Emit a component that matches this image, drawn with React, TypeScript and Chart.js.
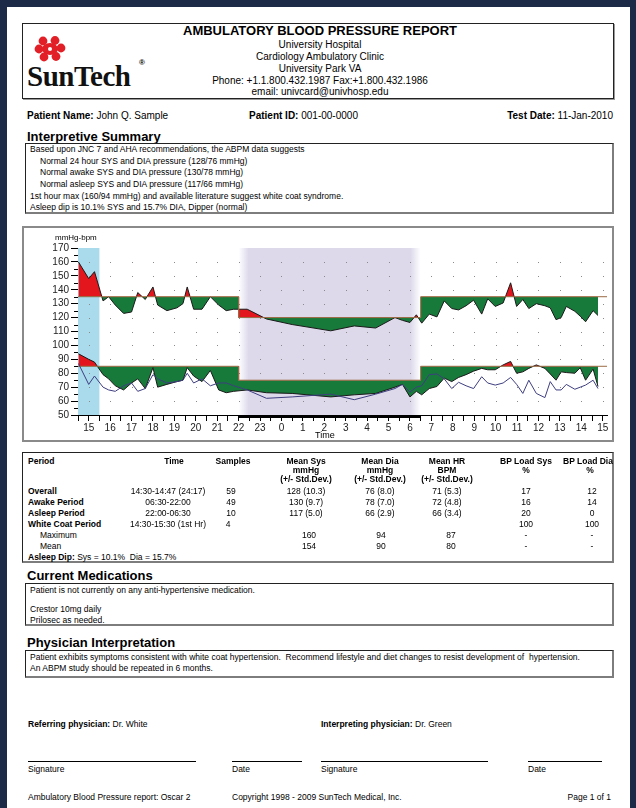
import React, { useEffect, useRef } from "react";
import { Chart, registerables } from "chart.js";

Chart.register(...registerables);

// ---------- chart data (hours; values >= 24 are the next day) ----------
const sampleTimes = [
  14.52, 15.0, 15.27, 15.67, 15.93, 16.24, 16.63, 17.0, 17.29, 17.64, 18.0, 18.22, 18.65, 19.12, 19.4, 19.6,
  19.9, 20.29, 20.68, 21.07, 21.42, 21.77,
  22.4, 23.3, 24.5, 26.3, 27.4, 28.4, 29.3, 29.65, 30.0, 30.3,
  30.55, 30.9, 31.26, 31.6, 31.95, 32.27, 32.62, 32.97, 33.35, 33.63, 33.98, 34.35, 34.7, 34.98, 35.27,
  35.55, 35.9, 36.3, 36.55, 36.82, 37.06, 37.3, 37.7, 37.95, 38.2, 38.55, 38.78,
];
const systolic = [
  160, 148, 153, 132, 135, 129, 123, 124, 138, 133, 142, 129, 125, 127, 130, 142,
  126, 126, 135, 129, 125, 126,
  126, 119, 115, 110.5, 114, 112.5, 120, 118, 116.5, 122,
  116, 122.5, 120.5, 132, 126.5, 125.5, 128.5, 132.5, 122.5, 133.5, 128, 130.5, 145, 128, 133,
  126.5, 130, 128.5, 127, 118.5, 120, 128, 124.5, 121, 117, 125, 121.5,
];
const diastolic = [
  94, 90, 88, 79, 76, 71, 68, 73, 76, 69, 84, 70, 72, 74, 75, 84,
  78, 74, 82, 68, 66, 67,
  68, 66, 65.5, 63, 64.5, 65.5, 70, 72, 63, 67,
  64.5, 69, 70.5, 76.5, 74, 77, 79, 81.5, 83.5, 82.5, 82.5, 86, 88.5, 80, 81,
  83.5, 86, 83.5, 79.5, 75, 81, 80.5, 80, 84, 75, 83, 70.5,
];
const heartRate = [
  87, 72, 78, 70, 68, 67, 71, 73, 67, 69, 79, 76, 73, 74, 75, 80,
  73, 76, 71, 73, 73, 71,
  68, 62, 63, 65, 61, 65, 69, 72, 66.5, 70,
  71, 79, 79.5, 76, 69, 73.5, 71, 69, 77.5, 73, 71.5, 73, 77, 72, 65.5,
  75, 65.5, 62.5, 74, 68, 68, 72, 68.5, 70, 71.5, 75, 69,
];
const limitTimes = [14.5, 22, 22, 30.5, 30.5, 39.2];
const sysLimit = [135, 135, 120, 120, 135, 135];
const diaLimit = [85, 85, 75, 75, 85, 85];
const whiteCoatPeriod = [14.5, 15.5];
const sleepPeriod = [22, 30.5];
const timeRange = [14.5, 39.2];
const valueRange = [50, 170];

// ---------- table data ----------
const periodRows = ["Overall", "Awake Period", "Asleep Period", "White Coat Period"];
const periodTimes = ["14:30-14:47 (24:17)", "06:30-22:00", "22:00-06:30", "14:30-15:30 (1st Hr)"];
const periodSamples = ["59", "49", "10", "4"];
const meanSys = ["128 (10.3)", "130 (9.7)", "117 (5.0)", ""];
const meanDia = ["76 (8.0)", "78 (7.0)", "66 (2.9)", ""];
const meanHr = ["71 (5.3)", "72 (4.8)", "66 (3.4)", ""];
const loadSys = ["17", "16", "20", "100"];
const loadDia = ["12", "14", "0", "100"];
const wcMax = ["160", "94", "87", "-", "-"];
const wcMean = ["154", "90", "80", "-", "-"];

const GREEN = "#177a3a";
const RED = "#e3161d";
const LIMIT = "#9b6a43";
const HR_COLOR = "#3e3e80";
const FONT = '"Liberation Sans", Arial, sans-serif';

const pts = (xs: number[], ys: number[]) => xs.map((x, i) => ({ x, y: ys[i] }));

const decorPlugin = {
  id: "decor",
  beforeDatasetsDraw(chart: any) {
    const { ctx, chartArea: a, scales } = chart;
    const x = scales.x;
    const y = scales.y;
    ctx.save();
    const w0 = x.getPixelForValue(whiteCoatPeriod[0]);
    const w1 = x.getPixelForValue(whiteCoatPeriod[1]);
    ctx.fillStyle = "#a9dbec";
    ctx.fillRect(w0, a.top, w1 - w0, a.bottom - a.top);
    const s0 = x.getPixelForValue(sleepPeriod[0]);
    const s1 = x.getPixelForValue(sleepPeriod[1]);
    const g = ctx.createLinearGradient(s0, 0, s1, 0);
    const f = 10 / (s1 - s0);
    g.addColorStop(0, "rgba(221,217,235,0)");
    g.addColorStop(f, "rgb(221,217,235)");
    g.addColorStop(1 - f, "rgb(221,217,235)");
    g.addColorStop(1, "rgba(221,217,235,0)");
    ctx.fillStyle = g;
    ctx.fillRect(s0, a.top, s1 - s0, a.bottom - a.top);
    ctx.fillStyle = "#8a8a8a";
    for (const t of x.ticks) {
      if (!Number.isInteger(t.value)) continue;
      const px = Math.round(x.getPixelForValue(t.value));
      for (const u of y.ticks) {
        if (u.value <= y.min || u.value >= y.max) continue;
        const py = Math.round(y.getPixelForValue(u.value));
        ctx.fillRect(px, py, 1, 1);
      }
    }
    // minor y ticks halfway between labelled ticks
    ctx.strokeStyle = "#000";
    ctx.lineWidth = 1;
    for (let i = 0; i < y.ticks.length - 1; i++) {
      const v = (y.ticks[i].value + y.ticks[i + 1].value) / 2;
      const py = Math.round(y.getPixelForValue(v)) + 0.5;
      ctx.beginPath();
      ctx.moveTo(a.left - 4, py);
      ctx.lineTo(a.left, py);
      ctx.stroke();
    }
    ctx.restore();
  },
  afterDatasetsDraw(chart: any) {
    const { ctx, chartArea: a, scales } = chart;
    const x = scales.x;
    const s0 = x.getPixelForValue(sleepPeriod[0]);
    const s1 = x.getPixelForValue(sleepPeriod[1]);
    ctx.save();
    ctx.fillStyle = "#000";
    ctx.fillRect(s0, a.bottom, s1 - s0, 3);
    ctx.restore();
  },
};

function BPChart() {
  const ref = useRef<HTMLCanvasElement>(null);
  useEffect(() => {
    const chart = new Chart(ref.current as HTMLCanvasElement, {
      type: "line",
      data: {
        datasets: [
          { label: "Sys limit", data: pts(limitTimes, sysLimit), borderColor: LIMIT, borderWidth: 1, pointRadius: 0, fill: false, order: 1 },
          { label: "Dia limit", data: pts(limitTimes, diaLimit), borderColor: LIMIT, borderWidth: 1, pointRadius: 0, fill: false, order: 1 },
          { label: "Systolic", data: pts(sampleTimes, systolic), borderColor: "#1a1a1a", borderWidth: 1, pointRadius: 0, fill: { target: 0, above: RED, below: GREEN }, order: 2 },
          { label: "Diastolic", data: pts(sampleTimes, diastolic), borderColor: "#1a1a1a", borderWidth: 1, pointRadius: 0, fill: { target: 1, above: RED, below: GREEN }, order: 2 },
          { label: "Heart rate", data: pts(sampleTimes, heartRate), borderColor: HR_COLOR, borderWidth: 1, pointRadius: 0, fill: false, order: 0 },
        ],
      } as any,
      options: {
        animation: false,
        responsive: false,
        events: [],
        layout: { padding: { top: 20, right: 5, left: 0, bottom: 0 } },
        plugins: { legend: { display: false }, tooltip: { enabled: false }, title: { display: false } },
        scales: {
          x: {
            type: "linear",
            min: timeRange[0],
            max: timeRange[1],
            afterFit: (s: any) => { s.height = 25; },
            grid: { drawOnChartArea: false, drawTicks: true, tickLength: 6, color: "#000" },
            border: { color: "#000", width: 1 },
            ticks: {
              stepSize: 0.5,
              includeBounds: false,
              autoSkip: false,
              maxRotation: 0,
              padding: 1,
              color: "#222",
              font: { family: FONT, size: 10 },
              callback: (v: any) => (Number.isInteger(v) ? String(v % 24) : ""),
            },
          },
          y: {
            min: valueRange[0],
            max: valueRange[1],
            afterFit: (s: any) => { s.width = 54; },
            grid: { drawOnChartArea: false, drawTicks: true, tickLength: 7, color: "#000" },
            border: { color: "#000", width: 1 },
            ticks: { stepSize: 10, autoSkip: false, padding: 2, color: "#222", font: { family: FONT, size: 10 } },
          },
        },
      } as any,
      plugins: [decorPlugin],
    });
    return () => chart.destroy();
  }, []);
  return (
    <canvas
      ref={ref}
      width={588}
      height={212}
      style={{ position: "absolute", left: 24, top: 228, width: 588, height: 212 }}
    />
  );
}

type TP = { x: number; y: number; s?: number; b?: boolean; a?: "left" | "center" | "right"; children: React.ReactNode; ff?: string };
function T({ x, y, s = 8.5, b = false, a = "left", children, ff }: TP) {
  const style: React.CSSProperties = {
    position: "absolute",
    left: x,
    top: y - s * 0.6,
    fontSize: s,
    lineHeight: `${s * 1.2}px`,
    fontWeight: b ? "bold" : "normal",
    whiteSpace: "pre",
    color: "#000",
  };
  if (ff) style.fontFamily = ff;
  if (a === "center") style.transform = "translateX(-50%)";
  if (a === "right") style.transform = "translateX(-100%)";
  return <div style={style}>{children}</div>;
}

function Box({ x, y, w, h }: { x: number; y: number; w: number; h: number }) {
  return (
    <div
      style={{
        position: "absolute",
        left: x,
        top: y,
        width: w,
        height: h,
        boxSizing: "border-box",
        borderLeft: "1px solid #222",
        borderTop: "1px solid #222",
        borderRight: "2px solid #7d7d7d",
        borderBottom: "2px solid #7d7d7d",
      }}
    />
  );
}

function Line({ x1, x2, y }: { x1: number; x2: number; y: number }) {
  return <div style={{ position: "absolute", left: x1, top: y, width: x2 - x1, height: 1, background: "#000" }} />;
}

export default function App() {
  const col = { time: 168, samples: 231, sys: 306, dia: 380, hr: 447, lsys: 526, ldia: 592 };
  const rowY = [491, 502, 513, 524];
  return (
    <div
      style={{
        position: "absolute",
        left: 0,
        top: 0,
        width: 636,
        height: 808,
        overflow: "hidden",
        background: "rgb(28,42,72)",
        fontFamily: FONT,
      }}
    >
      <div style={{ position: "absolute", left: 7, top: 7, width: 623, height: 801, background: "#fff" }}>
      </div>
      {/* header */}
      <div style={{ position: "absolute", left: 22, top: 23, width: 592, height: 76, boxSizing: "border-box", border: "1px solid #222", boxShadow: "1px 1px 0 #999" }} />
      <svg width="34" height="26" style={{ position: "absolute", left: 34, top: 36 }}>
        <g fill="#e21f26">
          <ellipse cx="16" cy="13" rx="8" ry="6" />
          <circle cx="9" cy="5" r="4.4" />
          <circle cx="21" cy="4.5" r="4.4" />
          <circle cx="5" cy="13" r="4.4" />
          <circle cx="27" cy="12" r="4.4" />
          <circle cx="10" cy="21" r="4.4" />
          <circle cx="22" cy="20.5" r="4.4" />
        </g>
        <circle cx="16" cy="13" r="2" fill="#fff" />
      </svg>
      <div style={{ position: "absolute", left: 27, top: 58, fontSize: 29, lineHeight: "36px", fontWeight: "bold", fontFamily: '"Liberation Serif", "Times New Roman", serif', color: "#111", letterSpacing: -0.5 }}>SunTech</div>
      <T x={139} y={63} s={8} b>®</T>
      <T x={320} y={31} s={13} b a="center">AMBULATORY BLOOD PRESSURE REPORT</T>
      <T x={320} y={44.5} s={10} a="center">University Hospital</T>
      <T x={320} y={56.5} s={10} a="center">Cardiology Ambulatory Clinic</T>
      <T x={320} y={68.5} s={10} a="center">University Park VA</T>
      <T x={320} y={80.5} s={10} a="center">Phone: +1.1.800.432.1987 Fax:+1.800.432.1986</T>
      <T x={320} y={92} s={10} a="center">email: univcard@univhosp.edu</T>

      {/* patient row */}
      <T x={27} y={116} s={10}><b>Patient Name:</b> John Q. Sample</T>
      <T x={249} y={116} s={10}><b>Patient ID:</b> 001-00-0000</T>
      <T x={613} y={116} s={10} a="right"><b>Test Date:</b> 11-Jan-2010</T>

      {/* interpretive summary */}
      <T x={27} y={136.5} s={13} b>Interpretive Summary</T>
      <Box x={25} y={143} w={589} h={71} />
      <T x={30} y={149}>Based upon JNC 7 and AHA recommendations, the ABPM data suggests</T>
      <T x={40} y={160.7}>Normal 24 hour SYS and DIA pressure (128/76 mmHg)</T>
      <T x={40} y={172.3}>Normal awake SYS and DIA pressure (130/78 mmHg)</T>
      <T x={40} y={184}>Normal asleep SYS and DIA pressure (117/66 mmHg)</T>
      <T x={30} y={195.7}>1st hour max (160/94 mmHg) and available literature suggest white coat syndrome.</T>
      <T x={30} y={207.3}>Asleep dip is 10.1% SYS and 15.7% DIA, Dipper (normal)</T>

      {/* chart */}
      <div style={{ position: "absolute", left: 22, top: 226, width: 592, height: 216, boxSizing: "border-box", border: "2px solid #8a8a8a" }} />
      <BPChart />
      <T x={55} y={238} s={8}>mmHg-bpm</T>
      <T x={315} y={435} s={9}>Time</T>

      {/* table */}
      <Box x={22} y={452} w={592} h={111} />
      <T x={28} y={461} b>Period</T>
      <T x={col.time + 6} y={461} b a="center">Time</T>
      <T x={col.samples + 2} y={461} b a="center">Samples</T>
      {[["Mean Sys", "mmHg", col.sys], ["Mean Dia", "mmHg", col.dia], ["Mean HR", "BPM", col.hr]].map(([a, b, c]) => (
        <React.Fragment key={a as string}>
          <T x={c as number} y={461} b a="center">{a}</T>
          <T x={c as number} y={470} b a="center">{b}</T>
          <T x={c as number} y={479} b a="center">(+/- Std.Dev.)</T>
        </React.Fragment>
      ))}
      <T x={col.lsys} y={461} b a="center">BP Load Sys</T>
      <T x={col.lsys} y={470} b a="center">%</T>
      <T x={col.ldia - 4} y={461} b a="center">BP Load Dia</T>
      <T x={col.ldia - 2} y={470} b a="center">%</T>
      {periodRows.map((p, i) => (
        <React.Fragment key={p}>
          <T x={28} y={rowY[i]} b>{p}</T>
          <T x={col.time} y={rowY[i]} a="center">{periodTimes[i]}</T>
          <T x={col.samples - (i === 3 ? 3 : 0)} y={rowY[i]} a="center">{periodSamples[i]}</T>
          <T x={col.sys} y={rowY[i]} a="center">{meanSys[i]}</T>
          <T x={col.dia} y={rowY[i]} a="center">{meanDia[i]}</T>
          <T x={col.hr} y={rowY[i]} a="center">{meanHr[i]}</T>
          <T x={col.lsys} y={rowY[i]} a="center">{loadSys[i]}</T>
          <T x={col.ldia} y={rowY[i]} a="center">{loadDia[i]}</T>
        </React.Fragment>
      ))}
      {[["Maximum", wcMax, 535], ["Mean", wcMean, 546]].map(([label, vals, yy]) => (
        <React.Fragment key={label as string}>
          <T x={40} y={yy as number}>{label}</T>
          <T x={col.sys + 3} y={yy as number} a="center">{(vals as string[])[0]}</T>
          <T x={col.dia + 1} y={yy as number} a="center">{(vals as string[])[1]}</T>
          <T x={col.hr + 4} y={yy as number} a="center">{(vals as string[])[2]}</T>
          <T x={col.lsys} y={yy as number} a="center">{(vals as string[])[3]}</T>
          <T x={col.ldia} y={yy as number} a="center">{(vals as string[])[4]}</T>
        </React.Fragment>
      ))}
      <T x={28} y={557}><b>Asleep Dip:</b> Sys = 10.1%  Dia = 15.7%</T>

      {/* medications */}
      <T x={27} y={576} s={13} b>Current Medications</T>
      <Box x={25} y={583} w={589} h={43} />
      <T x={30} y={590}>Patient is not currently on any anti-hypertensive medication.</T>
      <T x={30} y={609.5}>Crestor 10mg daily</T>
      <T x={30} y={620}>Prilosec as needed.</T>

      {/* physician interpretation */}
      <T x={27} y={643} s={13} b>Physician Interpretation</T>
      <Box x={25} y={650} w={589} h={28} />
      <T x={30} y={657.5}>Patient exhibits symptoms consistent with white coat hypertension.  Recommend lifestyle and diet changes to resist development of  hypertension.</T>
      <T x={30} y={668.5}>An ABPM study should be repeated in 6 months.</T>

      {/* signatures */}
      <T x={28} y={724}><b>Referring physician:</b> Dr. White</T>
      <T x={321} y={724}><b>Interpreting physician:</b> Dr. Green</T>
      <Line x1={28} x2={196} y={761} />
      <Line x1={232} x2={302} y={761} />
      <Line x1={321} x2={488} y={761} />
      <Line x1={528} x2={602} y={761} />
      <T x={28} y={769}>Signature</T>
      <T x={232} y={769}>Date</T>
      <T x={321} y={769}>Signature</T>
      <T x={528} y={769}>Date</T>

      {/* footer */}
      <T x={28} y={797}>Ambulatory Blood Pressure report: Oscar 2</T>
      <T x={232} y={797}>Copyright 1998 - 2009 SunTech Medical, Inc.</T>
      <T x={611} y={797} a="right">Page 1 of 1</T>
    </div>
  );
}
